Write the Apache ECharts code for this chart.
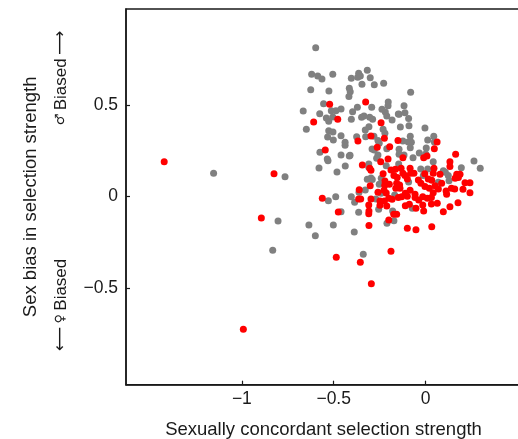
<!DOCTYPE html>
<html>
<head>
<meta charset="utf-8">
<script src="https://cdn.jsdelivr.net/npm/echarts@6/dist/echarts.min.js"></script>
<style>
html,body{margin:0;padding:0;background:#fff;}
#chart{width:518px;height:439px;}
</style>
</head>
<body>
<div id="chart"></div>
<script>
// Tick labels
const xTicks = [-1, -0.5, 0];
const yTicks = [-0.5, 0, 0.5];

// Gray points: [x, y]
const grayPoints = [
[-1.154,0.128],[-0.765,0.109],[-0.598,0.813],[-0.620,0.668],[-0.587,0.659],[-0.564,0.642],[-0.505,0.668],
[-0.625,0.584],[-0.526,0.577],[-0.364,0.673],[-0.317,0.690],[-0.404,0.646],[-0.369,0.651],[-0.355,0.659],
[-0.301,0.649],[-0.346,0.613],[-0.279,0.611],[-0.228,0.619],[-0.415,0.591],[-0.410,0.573],[-0.417,0.546],
[-0.555,0.507],[-0.666,0.468],[-0.576,0.453],[-0.513,0.469],[-0.488,0.469],[-0.460,0.478],[-0.540,0.429],
[-0.527,0.411],[-0.505,0.435],[-0.649,0.368],[-0.397,0.464],[-0.371,0.488],[-0.404,0.422],[-0.293,0.488],
[-0.348,0.433],[-0.335,0.440],[-0.304,0.433],[-0.288,0.422],[-0.237,0.477],[-0.219,0.462],[-0.203,0.517],
[-0.204,0.496],[-0.211,0.440],[-0.182,0.418],[-0.148,0.451],[-0.308,0.382],[-0.328,0.364],[-0.231,0.368],
[-0.221,0.346],[-0.527,0.360],[-0.504,0.353],[-0.533,0.326],[-0.502,0.309],[-0.460,0.333],[-0.438,0.297],
[-0.438,0.280],[-0.375,0.327],[-0.326,0.327],[-0.281,0.330],[-0.259,0.306],[-0.252,0.291],[-0.291,0.260],
[-0.279,0.255],[-0.211,0.262],[-0.575,0.242],[-0.460,0.228],[-0.411,0.226],[-0.259,0.228],[-0.535,0.206],
[-0.580,0.157],[-0.081,0.570],[-0.117,0.496],[-0.144,0.450],[-0.112,0.458],[-0.092,0.426],[-0.137,0.380],
[-0.090,0.387],[-0.003,0.375],[-0.083,0.330],[0.045,0.330],[-0.123,0.304],[-0.094,0.298],[-0.077,0.297],
[0.012,0.309],[0.048,0.298],[-0.144,0.259],[-0.083,0.267],[0.004,0.266],[-0.144,0.231],[-0.034,0.238],
[0.001,0.233],[-0.068,0.213],[-0.531,0.196],[-0.482,0.135],[-0.437,0.168],[-0.309,0.178],[-0.214,0.169],
[-0.146,0.178],[0.042,0.191],[0.264,0.195],[0.298,0.155],[-0.026,0.151],[0.012,0.151],[0.097,0.142],
[0.108,0.133],[0.124,0.115],[0.195,0.158],[-0.297,0.102],[-0.290,0.093],[-0.328,0.037],[-0.241,0.100],
[-0.252,0.068],[-0.092,0.080],[-0.012,0.115],[0.070,0.079],[0.128,0.087],[-0.317,0.095],[-0.529,-0.022],
[-0.489,0.000],[-0.404,0.000],[-0.386,-0.031],[-0.270,-0.013],[-0.242,0.019],[-0.168,0.009],[-0.072,-0.063],
[-0.255,-0.069],[-0.179,-0.078],[-0.210,-0.145],[-0.172,-0.131],[-0.460,-0.082],[-0.364,-0.085],[-0.803,-0.133],
[-0.635,-0.154],[-0.502,-0.154],[-0.600,-0.213],[-0.832,-0.292],[-0.388,-0.193],[-0.339,-0.314],[-0.362,0.024],
[-0.309,0.160],[-0.266,0.210],[-0.117,0.228],[-0.415,0.222]
];

// Red points: [x, y]
const redPoints = [
[-1.423,0.191],[-0.825,0.125],[-0.609,0.408],[-0.522,0.504],[-0.478,0.422],[-0.326,0.517],[-0.242,0.404],
[-0.368,0.304],[-0.297,0.331],[-0.224,0.319],[-0.263,0.270],[-0.195,0.273],[-0.150,0.306],[-0.546,0.255],
[-0.204,0.206],[0.063,0.298],[0.048,0.262],[-0.123,0.213],[-0.010,0.213],[0.008,0.222],[0.164,0.231],
[-0.344,0.173],[-0.304,0.155],[-0.297,0.144],[-0.244,0.191],[-0.188,0.146],[-0.164,0.149],[-0.133,0.155],
[0.133,0.191],[0.133,0.164],[-0.084,0.155],[-0.063,0.128],[-0.004,0.125],[0.042,0.128],[0.046,0.155],
[0.079,0.122],[0.170,0.122],[0.188,0.122],[0.161,0.100],[0.179,0.104],[-0.301,0.060],[-0.231,0.125],
[-0.221,0.086],[-0.222,0.062],[-0.197,0.068],[-0.172,0.115],[-0.154,0.104],[-0.141,0.064],[-0.123,0.128],
[-0.112,0.115],[-0.099,0.097],[-0.081,0.128],[-0.157,0.073],[-0.162,0.046],[-0.139,0.046],[-0.039,0.091],
[-0.025,0.073],[0.015,0.097],[0.034,0.089],[0.052,0.060],[0.088,0.073],[-0.003,0.055],[0.021,0.046],
[0.112,0.031],[0.115,0.013],[0.141,0.046],[0.159,0.042],[0.204,0.040],[0.215,0.076],[0.242,0.076],
[0.242,0.022],[-0.361,0.038],[-0.562,-0.009],[-0.364,-0.013],[-0.353,-0.013],[-0.297,-0.013],[-0.259,0.024],
[-0.226,0.035],[-0.214,0.020],[-0.200,-0.009],[-0.182,-0.014],[-0.148,-0.005],[-0.130,0.000],[-0.110,0.019],
[-0.099,0.002],[-0.084,0.035],[-0.057,0.013],[-0.057,-0.005],[-0.037,-0.018],[-0.015,0.000],[0.010,-0.009],
[0.032,-0.005],[0.042,0.022],[0.070,0.042],[-0.248,-0.023],[-0.224,-0.023],[-0.475,-0.083],[-0.309,-0.045],
[-0.308,-0.078],[-0.309,-0.093],[-0.248,-0.047],[-0.211,-0.051],[-0.110,-0.049],[-0.088,-0.041],[-0.052,-0.063],
[-0.015,-0.045],[-0.010,-0.078],[0.032,-0.040],[0.064,-0.036],[0.133,-0.055],[0.097,-0.082],[0.177,-0.033],
[-0.200,-0.127],[-0.173,-0.096],[-0.157,-0.096],[-0.894,-0.116],[-0.308,-0.158],[-0.099,-0.172],[-0.052,-0.180],
[0.034,-0.164],[-0.486,-0.331],[-0.355,-0.358],[-0.188,-0.298],[-0.295,-0.475],[-0.992,-0.723]
];

const xMin = -1.631, xMax = 0.520;
const yMin = -1.026, yMax = 1.024;

const fmt = v => (v < 0 ? '\u2212' + String(-v) : String(v));
const FONT = '"Liberation Sans", Arial, Helvetica, sans-serif';
const ARROWFONT = '"DejaVu Sans", sans-serif';
const AX = '#1a1a1a';

const chart = echarts.init(document.getElementById('chart'), null, {renderer: 'canvas'});
chart.setOption({
  animation: false,
  backgroundColor: '#ffffff',
  grid: {left: 126, right: -3, top: 9, bottom: 54.3, containLabel: false, outerBoundsMode: 'none',
         show: true, borderColor: AX, borderWidth: 1.5, backgroundColor: 'transparent'},
  xAxis: {
    type: 'value', min: xMin, max: xMax,
    name: 'Sexually concordant selection strength',
    nameLocation: 'middle', nameGap: 36,
    nameTextStyle: {fontFamily: FONT, fontSize: 18.5, color: AX},
    axisLine: {show: true, onZero: false, lineStyle: {color: AX, width: 1.5}},
    axisTick: {show: true, inside: true, length: 4, customValues: xTicks, lineStyle: {color: AX, width: 1.2}},
    axisLabel: {customValues: xTicks, formatter: fmt, fontFamily: FONT, fontSize: 17.5, color: AX, margin: 5},
    splitLine: {show: false}
  },
  yAxis: {
    type: 'value', min: yMin, max: yMax,
    name: 'Sex bias in selection strength',
    nameLocation: 'middle', nameGap: 86,
    nameTextStyle: {fontFamily: FONT, fontSize: 18.5, color: AX},
    axisLine: {show: true, onZero: false, lineStyle: {color: AX, width: 1.5}},
    axisTick: {show: true, inside: true, length: 4, customValues: yTicks, lineStyle: {color: AX, width: 1.2}},
    axisLabel: {customValues: yTicks, formatter: fmt, fontFamily: FONT, fontSize: 17.5, color: AX, margin: 8},
    splitLine: {show: false}
  },
  graphic: [
    {type: 'text', x: 61, y: 78, rotation: Math.PI / 2,
     style: {text: '{s|\u2642} {t|Biased} {a|\u27F6}', textAlign: 'center', textVerticalAlign: 'middle',
       rich: {
         s: {font: '13px ' + ARROWFONT, fill: AX},
         t: {font: '17px ' + FONT, fill: AX},
         a: {font: '17px ' + ARROWFONT, fill: AX}
       }}},
    {type: 'text', x: 61, y: 305, rotation: Math.PI / 2,
     style: {text: '{a|\u27F5} {s|\u2640} {t|Biased}', textAlign: 'center', textVerticalAlign: 'middle',
       rich: {
         s: {font: '13px ' + ARROWFONT, fill: AX},
         t: {font: '17px ' + FONT, fill: AX},
         a: {font: '17px ' + ARROWFONT, fill: AX}
       }}}
  ],
  series: [
    {type: 'scatter', name: 'gray', data: grayPoints, symbol: 'circle', symbolSize: 7,
     itemStyle: {color: '#808080', opacity: 1}, silent: true},
    {type: 'scatter', name: 'red', data: redPoints, symbol: 'circle', symbolSize: 7,
     itemStyle: {color: '#ff0000', opacity: 1}, silent: true}
  ]
});
</script>
</body>
</html>
